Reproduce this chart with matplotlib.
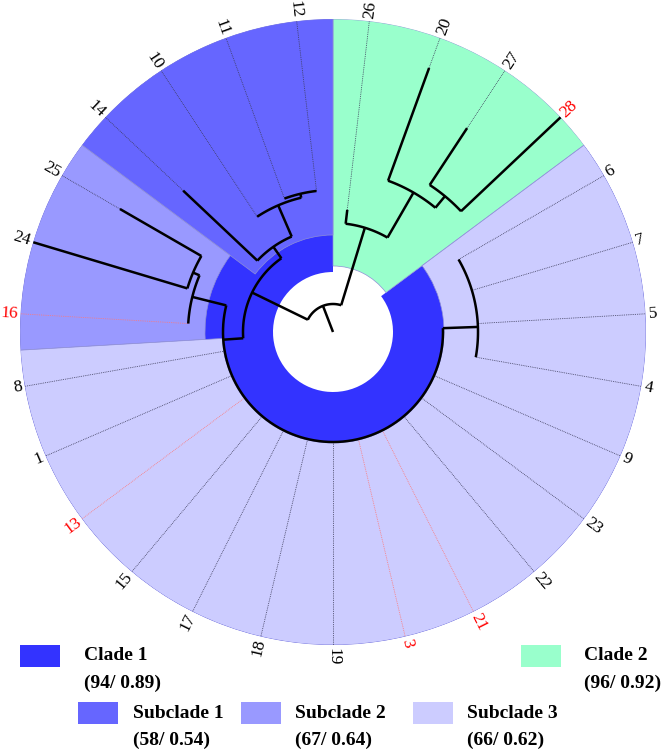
import numpy as np
import matplotlib

matplotlib.use("Agg")

import matplotlib.pyplot as plt
from matplotlib.patches import Rectangle

SERIF = ["Liberation Serif", "DejaVu Serif"]

# Leaves clockwise, starting at leaf 6 (compass 60 deg); clade 2 wraps past 360.
LEAF_ORDER = ["6", "7", "5", "4", "9", "23", "22", "21", "3", "19", "18", "17",
              "15", "13", "1", "8", "16", "24", "25", "14", "10", "11", "12",
              "26", "20", "27", "28"]
LEAF_PARENTS = ["g6754"] * 4 + ["sc23"] * 12 + [
    "sc2", "n2425", "n2425", "sc1", "n10", "n1112", "n1112",
    "clade2", "c2a", "c2b", "c2b"]
LEAF_TIP_RADIUS = [145, 145, 145, 145] + [110] * 12 + [
    145, 313, 246, 206, 138, 142, 142, 123, 281, 244, 313]
RED_LEAVES = ["16", "13", "3", "21", "28"]

# Internal nodes: radius of the node arc and angle of the stem.
NODE_NAMES = ["root", "clade1", "sc23", "g6754", "sc2", "n2425", "sc1", "n10",
              "n1112", "clade2", "c2a", "c2b"]
NODE_PARENTS = [None, "root", "clade1", "sc23", "sc23", "sc2", "clade1", "sc1",
                "n10", "root", "clade2", "c2a"]
NODE_RADIUS = [28, 90, 110, 145, 145, 152, 104, 138, 142, 109, 161, 176]
NODE_ANGLE = [339, 296, 266, 88, 284, 293, 325, 336.6, 346.7, 377, 390, 399.5]

# Coloured ranges: (start, end) in degrees, inner radius, colour.
RANGE_NAMES = ["Clade 1", "Clade 2", "Subclade 1", "Subclade 2", "Subclade 3"]
RANGE_SPANS = [(53.33, 360), (360, 413.33), (306.67, 360), (266.67, 306.67), (53.33, 266.67)]
RANGE_INNER = [60, 66, 97, 128, 111]
RANGE_COLORS = ["#3333ff", "#99ffcc", "#6666ff", "#9999ff", "#ccccff"]
RANGE_STATS = ["(94/ 0.89)", "(96/ 0.92)", "(58/ 0.54)", "(67/ 0.64)", "(66/ 0.62)"]

OUTER = 313
START_ANGLE = 60.0
STEP = 360.0 / len(LEAF_ORDER)
LINE_W = 1.8

fig = plt.figure(figsize=(6.66, 7.53), dpi=100)
ax = fig.add_axes([20 / 666, (421 - OUTER) / 753, 2 * OUTER / 666, 2 * OUTER / 753],
                  projection="polar")
ax.set_theta_zero_location("N")
ax.set_theta_direction(-1)
ax.set_ylim(0, OUTER)
ax.axis("off")

# coloured wedges
for (a0, a1), inner, color in zip(RANGE_SPANS, RANGE_INNER, RANGE_COLORS):
    edge = "none" if color == "#3333ff" else "#8f8fd6"
    ax.bar(np.radians((a0 + a1) / 2), OUTER - inner, width=np.radians(a1 - a0),
           bottom=inner, color=color, edgecolor=edge, linewidth=0.5, zorder=1)

leaf_angle = {name: START_ANGLE + i * STEP for i, name in enumerate(LEAF_ORDER)}
node_angle = dict(zip(NODE_NAMES, NODE_ANGLE))
node_radius = dict(zip(NODE_NAMES, NODE_RADIUS))


def radial(angle, r0, r1, **kw):
    ax.plot([np.radians(angle)] * 2, [r0, r1], **kw)


def arc(a0, a1, r, **kw):
    th = np.radians(np.linspace(a0, a1, 80))
    ax.plot(th, np.full_like(th, r), **kw)


tree_kw = dict(color="black", lw=LINE_W, solid_capstyle="butt", zorder=4)

# internal node arcs and stems
for name, parent in zip(NODE_NAMES, NODE_PARENTS):
    child_angles = [leaf_angle[l] for l, p in zip(LEAF_ORDER, LEAF_PARENTS) if p == name]
    child_angles += [node_angle[n] for n, p in zip(NODE_NAMES, NODE_PARENTS) if p == name]
    child_angles.append(node_angle[name])
    arc(min(child_angles), max(child_angles), node_radius[name], **tree_kw)
    r0 = node_radius[parent] if parent else 0
    radial(node_angle[name], r0, node_radius[name], **tree_kw)

# leaf branches, dotted guides and labels
for name, parent, tip in zip(LEAF_ORDER, LEAF_PARENTS, LEAF_TIP_RADIUS):
    ang = leaf_angle[name]
    red = name in RED_LEAVES
    if tip > node_radius[parent]:
        radial(ang, node_radius[parent], tip, **tree_kw)
    if tip < OUTER:
        radial(ang, tip, OUTER, color="#ff7777" if red else "#3c3c5a",
               lw=0.6, linestyle=(0, (1, 1.2)), zorder=3)
    rot = (90 - ang + 180) % 360 - 180
    ha = "left"
    if rot < -90 or rot > 90:
        rot = rot - 180 if rot > 0 else rot + 180
        ha = "right"
    ax.text(np.radians(ang), OUTER + 3, name, rotation=rot, rotation_mode="anchor",
            ha=ha, va="center", fontsize=12.5, family=SERIF,
            color="#ff0000" if red else "black", zorder=5)

# legend, drawn in pixel coordinates
leg = fig.add_axes([0, 0, 1, 1])
leg.set_xlim(0, 666)
leg.set_ylim(753, 0)
leg.axis("off")
leg.patch.set_alpha(0)

SWATCH_X = [20, 521, 78, 241, 413]
SWATCH_Y = [645, 645, 702, 702, 702]
TEXT_X = [84, 584, 133, 295, 467]
for i, name in enumerate(RANGE_NAMES):
    leg.add_patch(Rectangle((SWATCH_X[i], SWATCH_Y[i]), 40, 22,
                            facecolor=RANGE_COLORS[i], edgecolor="none"))
    leg.text(TEXT_X[i], SWATCH_Y[i] + 11, name, ha="left", va="center",
             fontsize=14, fontweight="bold", family=SERIF)
    leg.text(TEXT_X[i], SWATCH_Y[i] + 38, RANGE_STATS[i], ha="left", va="center",
             fontsize=14, fontweight="bold", family=SERIF)

fig.savefig("out.png", dpi=100)
